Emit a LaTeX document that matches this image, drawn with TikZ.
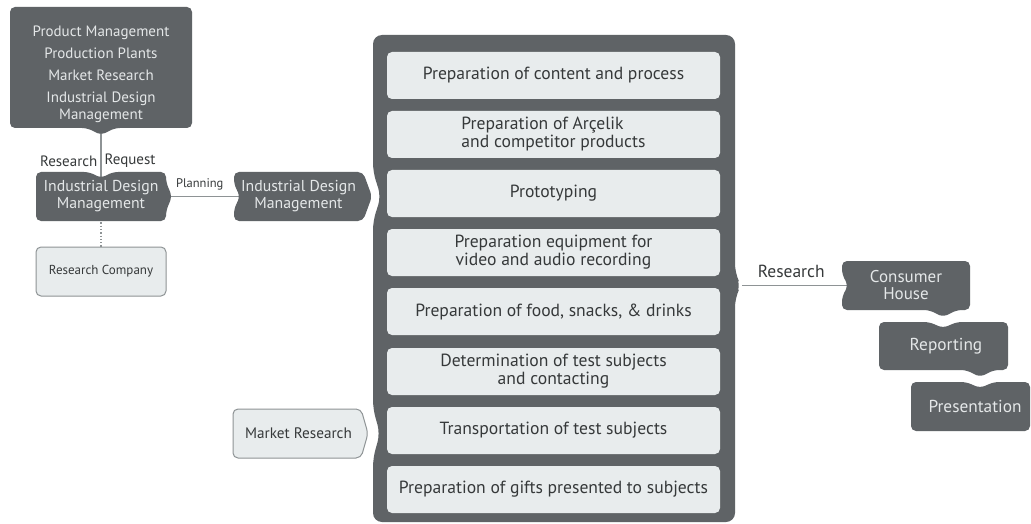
\documentclass[tikz,border=0pt]{standalone}
\usepackage{fontspec}
\setmainfont{PT Sans}
\usetikzlibrary{calc,backgrounds}
\definecolor{slate}{HTML}{5F6366}
\definecolor{mist}{HTML}{E8ECED}
\definecolor{edge}{HTML}{8E9395}
\definecolor{ink}{HTML}{36393A}
\definecolor{paper}{HTML}{E4E7E8}
\tikzset{
  ondark/.style={text=paper, align=center, inner sep=0pt, font=\fontsize{15.8}{17}\selectfont},
  onlight/.style={text=ink, align=center, inner sep=0pt, font=\fontsize{17.6}{18}\selectfont},
  tag/.style={text=ink, inner sep=0pt, font=\fontsize{15}{16}\selectfont},
  darkshape/.style={fill=slate, rounded corners=5pt},
  lightshape/.style={fill=mist, draw=edge, line width=1pt, rounded corners=5pt},
  stepbox/.style={onlight, fill=mist, rounded corners=5pt, minimum width=333pt, minimum height=47pt},
  link/.style={draw=edge, line width=1.3pt},
}
\begin{document}
\begin{tikzpicture}[x=1pt,y=-1pt]
\useasboundingbox (0,0) rectangle (1031,524);

% left column
\node[ondark, font=\fontsize{15}{17}\selectfont] (req) at (101,74.5) {Product Management\\[5pt]Production Plants\\[5pt]Market Research\\[5pt]Industrial Design\\Management};
\node[ondark] (idm1) at (101,196.5) {Industrial Design\\Management};
\node[onlight, font=\fontsize{13}{15}\selectfont, fill=mist, draw=edge, line width=1pt,
      rounded corners=5pt, minimum width=130pt, minimum height=49pt] (rc) at (101,271.5) {Research Company};
\node[ondark] (idm2) at (298.5,196.5) {Industrial Design\\Management};
\node[onlight, font=\fontsize{15.2}{16}\selectfont] (mr) at (298.5,433.5) {Market Research};

% task stack
\node[stepbox] (s1) at (553.5,75.5)  {Preparation of content and process};
\node[stepbox, align=left] (s2) at (553.5,134.5) {Preparation of Arçelik\\and competitor products};
\node[stepbox] (s3) at (553.5,193.5) {Prototyping};
\node[stepbox] (s4) at (553.5,252.5) {Preparation equipment for\\video and audio recording};
\node[stepbox] (s5) at (553.5,311.5) {Preparation of food, snacks, \& drinks};
\node[stepbox] (s6) at (553.5,371.5) {Determination of test subjects\\and contacting};
\node[stepbox] (s7) at (553.5,430.5) {Transportation of test subjects};
\node[stepbox] (s8) at (553.5,489.5) {Preparation of gifts presented to subjects};
\coordinate (stackR) at (742,285.5);

% right column
\node[ondark, font=\fontsize{17}{17}\selectfont] (ch) at (906,285.5) {Consumer\\House};
\node[ondark, font=\fontsize{17.3}{17}\selectfont] (rep) at (946,346) {Reporting};
\node[ondark, font=\fontsize{17.3}{17}\selectfont] (pres) at (975,406.5) {Presentation};

\begin{scope}[on background layer]
  \fill[white] (0,0) rectangle (1031,524);
  % connectors
  \draw[link] (req) -- node[tag, pos=0.66, anchor=east, xshift=-3pt] {Research}
                      node[tag, pos=0.66, anchor=west, xshift=3pt] {Request} (idm1);
  \draw[link] (idm1) -- node[tag, above=6pt, font=\fontsize{12.5}{14}\selectfont] {Planning} (idm2);
  \draw[link, dotted] (idm1) -- (rc);
  \draw[link] (ch) -- node[tag, pos=0.615, above=7pt, font=\fontsize{17.5}{18}\selectfont] {Research} (stackR);

  % box outlines
  \path[darkshape] (10,7) -- (192,7) -- (192,128) -- (115,128) -- (101,135) -- (87,128) -- (10,128) -- cycle;
  \path[darkshape] (36,172) -- (89,172) -- (101,178) -- (113,172) -- (166,172) -- (166,182)
        -- (172,196.5) -- (166,211) -- (166,221) -- (36,221) -- cycle;
  \path[darkshape] (234,172) -- (363,172) -- (372,196.5) -- (363,221) -- (234,221)
        -- (234,209) -- (240,196.5) -- (234,184) -- cycle;
  \path[darkshape, rounded corners=9pt] (373,35) -- (735,35) -- (735,273) -- (741,285.5) -- (735,298)
        -- (735,522) -- (373,522) -- (373,458) -- (380,433.5) -- (373,409)
        -- (373,221) -- (381,196.5) -- (373,172) -- cycle;
  \path[lightshape] (233,409) -- (361,409) -- (368,433.5) -- (361,458) -- (233,458) -- cycle;
  \path[darkshape] (842,261) -- (970,261) -- (970,310) -- (957,310) -- (943,317) -- (929,310)
        -- (842,310) -- (842,297) -- (848,285.5) -- (842,274) -- cycle;
  \path[darkshape] (879,322) -- (929,322) -- (943,328) -- (957,322) -- (1008,322) -- (1008,370)
        -- (994,370) -- (980,377) -- (966,370) -- (879,370) -- cycle;
  \path[darkshape] (911,382) -- (966,382) -- (980,388) -- (994,382) -- (1030,382) -- (1030,431)
        -- (911,431) -- cycle;
\end{scope}
\end{tikzpicture}
\end{document}
